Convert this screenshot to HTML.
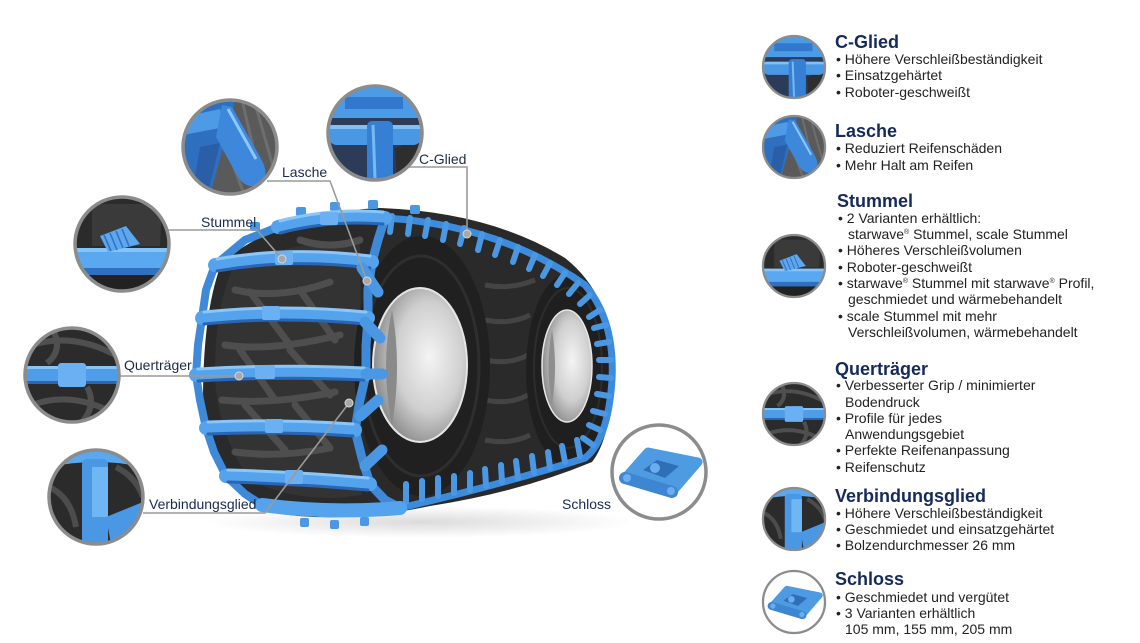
<!DOCTYPE html>
<html><head><meta charset="utf-8">
<style>
html,body{margin:0;padding:0;background:#fff;}
svg{display:block;}
text{font-family:"Liberation Sans",Arial,sans-serif;}
.h{font-size:18px;font-weight:bold;fill:#142a5c;}
.b{font-size:14px;fill:#222;}
.l{font-size:14px;fill:#1a2a4e;}
</style></head><body>
<svg width="1140" height="643" viewBox="0 0 1140 643" xmlns="http://www.w3.org/2000/svg">
<defs>
 <clipPath id="cc"><circle r="47"/></clipPath>
 <radialGradient id="rim" cx="0.6" cy="0.45" r="0.65">
   <stop offset="0" stop-color="#f4f4f4"/><stop offset="0.55" stop-color="#cfcfcf"/><stop offset="1" stop-color="#7e7e7e"/>
 </radialGradient>
 <radialGradient id="sh">
   <stop offset="0" stop-color="#000" stop-opacity="0.14"/><stop offset="1" stop-color="#000" stop-opacity="0"/>
 </radialGradient>

 <g id="dL">
  <g clip-path="url(#cc)">
   <rect x="-47" y="-47" width="94" height="94" fill="#5a5a5a"/>
   <path d="M12,-47 L34,47 M24,-47 L46,30 M0,10 L14,47" stroke="#6e6e6e" stroke-width="3" fill="none"/>
   <path d="M-47,-47 L5,-47 L0,-22 L-8,5 L-20,47 L-47,47 Z" fill="#2f6fc0"/>
   <path d="M-47,-30 L-10,-38 L-5,-20 L-47,-12Z" fill="#4d9be6"/>
   <path d="M-8,-42 L2,-40 L30,10 Q42,30 28,38 Q16,42 8,30 L-14,-10Z" fill="#3d88da"/>
   <path d="M-2,-38 L26,12" stroke="#8cc8ff" stroke-width="3" fill="none"/>
   <path d="M-30,0 L-10,-4 L-22,47 L-38,47Z" fill="#2a5fa8"/>
  </g>
  <circle r="47" fill="none" stroke="#8c8c8c" stroke-width="3.5"/>
 </g>

 <g id="dC">
  <g clip-path="url(#cc)">
   <rect x="-47" y="-47" width="94" height="94" fill="#2c3c58"/>
   <path d="M20,15 L47,5 L47,47 L22,47Z" fill="#2e2e2e"/>
   <path d="M-47,25 L-10,47 L-47,47Z" fill="#244e8c"/>
   <rect x="-47" y="-47" width="94" height="32" fill="#4b9be6"/>
   <rect x="-30" y="-36" width="58" height="12" fill="#3278cc"/>
   <rect x="-47" y="-8" width="94" height="20" rx="9" fill="#4a98e4"/>
   <rect x="-47" y="-8" width="94" height="4" fill="#7fc0f5"/>
   <rect x="-8" y="-12" width="26" height="62" rx="5" fill="#3580d4"/>
   <path d="M-2,-8 L0,45" stroke="#7ab8f0" stroke-width="3"/>
  </g>
  <circle r="47" fill="none" stroke="#8c8c8c" stroke-width="3.5"/>
 </g>

 <g id="dS">
  <g clip-path="url(#cc)">
   <rect x="-47" y="-47" width="94" height="94" fill="#2b2b2b"/>
   <path d="M-30,-40 L40,-40 L38,2 L-30,2Z" fill="#3a3a3a"/>
   <rect x="-47" y="4" width="94" height="22" fill="#5aa8f0"/>
   <rect x="-47" y="4" width="94" height="4" fill="#86c4f6"/>
   <rect x="-47" y="24" width="94" height="7" fill="#2f70c0"/>
   <path d="M-22,-8 L4,-18 L18,0 L-14,8Z" fill="#5ea6ee"/>
   <path d="M-18,-9 L-11,7 M-12,-11 L-5,6 M-6,-13 L1,4 M0,-15 L7,2" stroke="#2f74c6" stroke-width="1.6"/>
   <rect x="-47" y="31" width="94" height="17" fill="#222"/>
  </g>
  <circle r="47" fill="none" stroke="#8c8c8c" stroke-width="3.5"/>
 </g>

 <g id="dQ">
  <g clip-path="url(#cc)">
   <rect x="-47" y="-47" width="94" height="94" fill="#2b2b2b"/>
   <path d="M-47,-28 Q0,-45 47,-18 M-40,30 Q0,15 45,40 M-20,-47 Q-8,-25 -25,-12 M15,12 Q25,30 10,47" stroke="#4f4f4f" stroke-width="6" fill="none"/>
   <rect x="-47" y="-9" width="94" height="17" fill="#4f9de8"/>
   <rect x="-47" y="-9" width="94" height="3" fill="#86c4f6"/>
   <rect x="-47" y="6" width="94" height="3" fill="#2a66b5"/>
   <rect x="-14" y="-12" width="28" height="24" rx="3" fill="#6ab0f2"/>
  </g>
  <circle r="47" fill="none" stroke="#8c8c8c" stroke-width="3.5"/>
 </g>

 <g id="dV">
  <g clip-path="url(#cc)">
   <rect x="-47" y="-47" width="94" height="94" fill="#2b2b2b"/>
   <path d="M-47,-10 Q-25,0 -20,30 M20,-30 Q40,-20 47,0" stroke="#4c4c4c" stroke-width="6" fill="none"/>
   <path d="M-47,-47 L47,-47 L47,-30 Q0,-40 -47,-30Z" fill="#5aa8ef"/>
   <rect x="-14" y="-38" width="26" height="90" rx="5" fill="#4a98e4"/>
   <rect x="-4" y="-30" width="16" height="50" fill="#6fb6f5"/>
   <path d="M10,20 L47,5 L47,47 L15,47Z" fill="#4a98e4"/>
  </g>
  <circle r="47" fill="none" stroke="#8c8c8c" stroke-width="3.5"/>
 </g>

 <g id="dK">
  <circle r="47" fill="#fff"/>
  <path d="M-34,6 L-11,-20 L39,-10 L13,20 Z" fill="#4f9be2" stroke="#4f9be2" stroke-width="9" stroke-linejoin="round"/>
  <path d="M-16,-2 L-2,-12 L20,-6 L6,6Z" fill="#2f6fb8"/>
  <circle cx="-4" cy="-4" r="5" fill="#6aaeef"/>
  <path d="M-34,6 L13,20" stroke="#3d86d2" stroke-width="12" stroke-linecap="round"/>
  <circle cx="-32" cy="6" r="4" fill="#6aaeef"/>
  <circle cx="12" cy="19" r="4" fill="#6aaeef"/>
  <circle r="47" fill="none" stroke="#8c8c8c" stroke-width="3.5"/>
 </g>
</defs>

<rect width="1140" height="643" fill="#fff"/>

<!-- shadow -->
<ellipse cx="420" cy="522" rx="215" ry="16" fill="url(#sh)"/>

<!-- tire mass -->
<path d="M222,262 Q285,212 380,208 Q490,212 565,258 Q612,295 613,365 Q613,435 592,462 Q520,492 430,506 Q340,525 268,512 Q212,480 203,400 Q203,310 222,262Z" fill="#2a2a2a"/>
<!-- front tread lighter zone -->
<path d="M232,270 Q290,240 360,240 L362,495 Q300,505 250,480 Q215,430 215,370 Q215,310 232,270Z" fill="#333"/>

<!-- front tread lugs -->
<g stroke="#4e4e4e" stroke-width="7" fill="none" stroke-linecap="round">
 <path d="M235,290 Q280,300 330,282"/>
 <path d="M225,345 Q270,352 340,335"/>
 <path d="M222,400 Q270,405 335,392"/>
 <path d="M235,452 Q280,458 330,448"/>
 <path d="M300,240 Q330,250 360,240"/>
 <path d="M250,292 L290,345 M300,290 L335,340 M240,350 L275,400 M290,350 L330,395 M245,405 L285,450 M295,405 L330,448"/>
</g>
<!-- rear tread lugs -->
<g stroke="#444" stroke-width="5" fill="none">
 <path d="M485,285 Q510,290 535,280 M485,320 Q510,325 530,315 M485,360 Q510,365 528,355 M485,400 Q510,405 528,395 M485,440 Q510,445 530,435"/>
</g>

<!-- rear sidewall + rim -->
<ellipse cx="568" cy="370" rx="42" ry="96" fill="#1f1f1f"/>
<ellipse cx="568" cy="368" rx="34" ry="80" fill="none" stroke="#2d2d2d" stroke-width="2"/>
<ellipse cx="567" cy="366" rx="25" ry="56" fill="url(#rim)" stroke="#e8e8e8" stroke-width="1.5"/>
<path d="M552,330 Q545,366 552,405 Q558,366 552,330Z" fill="#8e8e8e"/>

<!-- front sidewall + rim -->
<ellipse cx="422" cy="366" rx="68" ry="130" fill="#202020"/>
<ellipse cx="421" cy="366" rx="58" ry="110" fill="none" stroke="#2e2e2e" stroke-width="3"/>
<ellipse cx="420" cy="365" rx="47" ry="77" fill="url(#rim)" stroke="#e6e6e6" stroke-width="2"/>
<path d="M392,310 Q380,365 392,425 Q402,365 392,310Z" fill="#8a8a8a"/>

<!-- blue chain: top/right/bottom -->
<path d="M385,218 Q500,225 585,285 Q615,320 612,380 Q608,440 585,458 Q500,485 400,508" stroke="#3d8bdc" stroke-width="7" fill="none"/>
<g stroke="#4a98e4" stroke-width="6" stroke-linecap="round">
 <path d="M392,216 l-2,16 M410,218 l-2,16 M428,220 l-3,16 M446,224 l-3,16 M464,228 l-4,16 M482,234 l-4,16 M500,240 l-5,15 M518,247 l-5,15 M535,255 l-6,14 M550,263 l-7,13 M565,273 l-8,12 M578,283 l-9,11 M590,295 l-10,9 M600,310 l-11,7"/>
 <path d="M606,325 l-12,3 M609,342 l-12,2 M611,360 l-12,0 M611,378 l-12,-1 M609,396 l-12,-2 M605,414 l-12,-3 M600,430 l-11,-5 M593,445 l-10,-7"/>
 <path d="M580,456 l-3,-16 M565,462 l-3,-16 M550,468 l-2,-16 M534,473 l-2,-17 M518,478 l-2,-17 M502,482 l-1,-17 M486,486 l-1,-17 M470,490 l0,-17 M454,493 l0,-17 M438,496 l0,-18 M422,499 l0,-18 M406,502 l0,-18"/>
</g>
<g fill="#4a98e4">
 <rect x="296" y="207" width="10" height="9" rx="2"/><rect x="330" y="202" width="10" height="9" rx="2"/><rect x="368" y="200" width="10" height="9" rx="2"/><rect x="410" y="205" width="10" height="9" rx="2"/><rect x="250" y="222" width="10" height="9" rx="2"/>
 <rect x="300" y="518" width="9" height="9" rx="2"/><rect x="330" y="520" width="9" height="9" rx="2"/><rect x="360" y="517" width="9" height="9" rx="2"/>
</g>

<!-- left edge chain and sidewall chain -->
<path d="M278,227 L245,240 L215,265 L206,290 L202,318 L198,345 L196,375 L200,400 L206,428 L214,452 L226,476 L245,494 L262,505" stroke="#3f8ad8" stroke-width="8" fill="none" stroke-linejoin="round"/>
<path d="M385,218 L378,240 L372,262 L368,290 L368,318 L366,346 L366,374 L360,400 L355,430 L362,458 L370,484 L385,500 L400,508" stroke="#3f8ad8" stroke-width="9" fill="none" stroke-linejoin="round"/>

<!-- crossbars -->
<g fill="none" stroke-linecap="round">
 <g stroke="#55a3ec" stroke-width="14">
  <path d="M278,227 Q330,214 385,218"/>
  <path d="M215,265 Q290,252 372,262"/>
  <path d="M202,318 Q280,310 368,318"/>
  <path d="M196,375 Q280,370 366,374"/>
  <path d="M206,428 Q280,425 355,430"/>
  <path d="M226,476 Q300,478 370,484"/>
  <path d="M262,505 Q330,514 400,508"/>
 </g>
 <g stroke="#8ac6f8" stroke-width="3">
  <path d="M280,221 Q330,208 383,212"/>
  <path d="M217,259 Q290,246 370,256"/>
  <path d="M204,312 Q280,304 366,312"/>
  <path d="M198,369 Q280,364 364,368"/>
  <path d="M208,422 Q280,419 353,424"/>
  <path d="M228,470 Q300,472 368,478"/>
 </g>
 <g stroke="#2a66b5" stroke-width="3">
  <path d="M280,233 Q330,220 383,224"/>
  <path d="M217,271 Q290,258 370,268"/>
  <path d="M204,324 Q280,316 366,324"/>
  <path d="M198,381 Q280,376 364,380"/>
  <path d="M208,434 Q280,431 353,436"/>
  <path d="M228,482 Q300,484 368,490"/>
 </g>
</g>
<!-- bar connectors -->
<g fill="#6ab0f2">
 <rect x="320" y="212" width="18" height="13" rx="2"/>
 <rect x="275" y="251" width="18" height="14" rx="2"/>
 <rect x="262" y="306" width="18" height="14" rx="2"/>
 <rect x="255" y="365" width="20" height="14" rx="2"/>
 <rect x="265" y="419" width="18" height="14" rx="2"/>
 <rect x="285" y="470" width="18" height="14" rx="2"/>
</g>
<!-- lasche hooks on sidewall -->
<g stroke="#4a98e4" stroke-width="11" stroke-linecap="round">
 <path d="M362,268 L378,292"/>
 <path d="M365,322 L380,338"/>
 <path d="M366,374 L382,374"/>
 <path d="M360,416 L378,400"/>
 <path d="M365,466 L382,450"/>
</g>

<!-- connector lines -->
<g stroke="#9a9a9a" stroke-width="1.6" fill="none">
 <path d="M267,181 L330,181 L367,281"/>
 <path d="M408,167 L467,167 L467,234"/>
 <path d="M168,230 L257,230 L282,259"/>
 <path d="M120,376 L239,376"/>
 <path d="M143,513 L265,513 L349,403"/>
</g>
<g fill="#a8a8a8" stroke="#d8d8d8" stroke-width="1">
 <circle cx="367" cy="281" r="4"/>
 <circle cx="467" cy="234" r="4"/>
 <circle cx="282" cy="259" r="4"/>
 <circle cx="239" cy="376" r="4"/>
 <circle cx="349" cy="403" r="4"/>
</g>

<!-- big detail circles -->
<use href="#dL" transform="translate(230,147)"/>
<use href="#dC" transform="translate(375,133)"/>
<use href="#dS" transform="translate(122,244)"/>
<use href="#dQ" transform="translate(72,375)"/>
<use href="#dV" transform="translate(96,497)"/>
<use href="#dK" transform="translate(659,472)"/>

<!-- labels -->
<text class="l" x="282" y="177">Lasche</text>
<text class="l" x="419" y="164">C-Glied</text>
<text class="l" x="201" y="227">Stummel</text>
<text class="l" x="124" y="370">Querträger</text>
<text class="l" x="149" y="509">Verbindungsglied</text>
<text class="l" x="562" y="509">Schloss</text>

<!-- small circles right -->
<use href="#dC" transform="translate(794,67) scale(0.66)"/>
<use href="#dL" transform="translate(794,147) scale(0.66)"/>
<use href="#dS" transform="translate(794,266) scale(0.66)"/>
<use href="#dQ" transform="translate(794,414) scale(0.66)"/>
<use href="#dV" transform="translate(794,519) scale(0.66)"/>
<use href="#dK" transform="translate(794,602) scale(0.66)"/>

<!-- right text -->
<text class="h" x="835" y="48">C-Glied</text>
<text class="b" x="836" y="64">• Höhere Verschleißbeständigkeit</text>
<text class="b" x="836" y="80">• Einsatzgehärtet</text>
<text class="b" x="836" y="97">• Roboter-geschweißt</text>

<text class="h" x="835" y="137">Lasche</text>
<text class="b" x="836" y="153">• Reduziert Reifenschäden</text>
<text class="b" x="836" y="170">• Mehr Halt am Reifen</text>

<text class="h" x="837" y="207">Stummel</text>
<text class="b" x="838" y="223">• 2 Varianten erhältlich:</text>
<text class="b" x="848" y="239">starwave<tspan font-size="7" dy="-5">®</tspan><tspan dy="5"> Stummel, scale Stummel</tspan></text>
<text class="b" x="838" y="255">• Höheres Verschleißvolumen</text>
<text class="b" x="838" y="272">• Roboter-geschweißt</text>
<text class="b" x="838" y="288">• starwave<tspan font-size="7" dy="-5">®</tspan><tspan dy="5"> Stummel mit starwave</tspan><tspan font-size="7" dy="-5">®</tspan><tspan dy="5"> Profil,</tspan></text>
<text class="b" x="848" y="304">geschmiedet und wärmebehandelt</text>
<text class="b" x="838" y="321">• scale Stummel mit mehr</text>
<text class="b" x="848" y="337">Verschleißvolumen, wärmebehandelt</text>

<text class="h" x="835" y="375">Querträger</text>
<text class="b" x="836" y="390">• Verbesserter Grip / minimierter</text>
<text class="b" x="845" y="407">Bodendruck</text>
<text class="b" x="836" y="423">• Profile für jedes</text>
<text class="b" x="845" y="439">Anwendungsgebiet</text>
<text class="b" x="836" y="455">• Perfekte Reifenanpassung</text>
<text class="b" x="836" y="472">• Reifenschutz</text>

<text class="h" x="835" y="502">Verbindungsglied</text>
<text class="b" x="836" y="518">• Höhere Verschleißbeständigkeit</text>
<text class="b" x="836" y="534">• Geschmiedet und einsatzgehärtet</text>
<text class="b" x="836" y="550">• Bolzendurchmesser 26 mm</text>

<text class="h" x="835" y="585">Schloss</text>
<text class="b" x="836" y="602">• Geschmiedet und vergütet</text>
<text class="b" x="836" y="618">• 3 Varianten erhältlich</text>
<text class="b" x="845" y="634">105 mm, 155 mm, 205 mm</text>
</svg>
</body></html>
